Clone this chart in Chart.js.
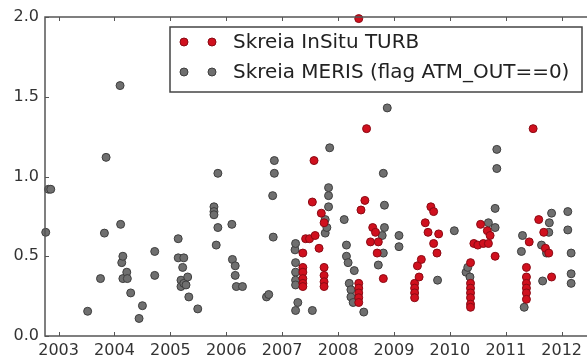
<!DOCTYPE html>
<html>
<head>
<meta charset="utf-8">
<script src="https://cdn.jsdelivr.net/npm/chart.js@4/dist/chart.umd.min.js"></script>
<style>
  html, body { margin: 0; padding: 0; background: #fff; }
  #wrap { width: 587px; height: 361px; }
</style>
</head>
<body>
<div id="wrap"><canvas id="turbChart" width="587" height="361"></canvas></div>
<script>
// tick labels
const yearTicks = [2003, 2004, 2005, 2006, 2007, 2008, 2009, 2010, 2011, 2012];
const turbTicks = [0.0, 0.5, 1.0, 1.5, 2.0];

// legend labels
const insituLabel = "Skreia InSitu TURB";
const merisLabel = "Skreia MERIS (flag ATM_OUT==0)";

// in situ turbidity (red)
const insituYears = [
  2007.37, 2007.37, 2007.37, 2007.37, 2007.37, 2007.37, 2007.42, 2007.49, 2007.59, 2007.57,
  2007.54, 2007.66, 2007.70, 2007.75, 2007.75, 2007.75, 2007.75, 2007.75, 2008.37, 2008.51,
  2008.48, 2008.41, 2008.37, 2008.37, 2008.37, 2008.37, 2008.37, 2008.62, 2008.67, 2008.58,
  2008.72, 2008.70, 2008.81, 2009.37, 2009.37, 2009.37, 2009.37, 2009.42, 2009.45, 2009.49,
  2009.56, 2009.61, 2009.66, 2009.71, 2009.71, 2009.77, 2009.80, 2010.37, 2010.37, 2010.37,
  2010.37, 2010.37, 2010.37, 2010.37, 2010.43, 2010.50, 2010.55, 2010.60, 2010.67, 2010.69,
  2010.72, 2010.81, 2011.37, 2011.37, 2011.37, 2011.37, 2011.37, 2011.37, 2011.42, 2011.49,
  2011.59, 2011.68, 2011.71, 2011.77, 2011.82
];
const insituTurb = [
  0.52, 0.43, 0.40, 0.36, 0.33, 0.31, 0.61, 0.61, 0.63, 1.10,
  0.84, 0.55, 0.77, 0.71, 0.43, 0.38, 0.34, 0.31, 1.99, 1.30,
  0.85, 0.79, 0.33, 0.30, 0.27, 0.24, 0.21, 0.68, 0.65, 0.59,
  0.59, 0.52, 0.36, 0.33, 0.30, 0.27, 0.24, 0.44, 0.37, 0.48,
  0.71, 0.65, 0.81, 0.78, 0.58, 0.52, 0.64, 0.46, 0.33, 0.30,
  0.27, 0.24, 0.20, 0.18, 0.58, 0.57, 0.70, 0.58, 0.66, 0.58,
  0.63, 0.50, 0.43, 0.37, 0.33, 0.30, 0.27, 0.23, 0.59, 1.30,
  0.73, 0.65, 0.55, 0.52, 0.37
];

// MERIS turbidity (grey)
const merisYears = [
  2002.77, 2002.82, 2002.86, 2003.52, 2003.75, 2003.82, 2003.85, 2004.10, 2004.11, 2004.13,
  2004.15, 2004.15, 2004.22, 2004.23, 2004.29, 2004.44, 2004.50, 2004.72, 2004.72, 2005.14,
  2005.14, 2005.19, 2005.19, 2005.22, 2005.24, 2005.24, 2005.28, 2005.31, 2005.33, 2005.49,
  2005.78, 2005.78, 2005.78, 2005.82, 2005.85, 2005.85, 2006.10, 2006.11, 2006.16, 2006.16,
  2006.18, 2006.29, 2006.72, 2006.76, 2006.83, 2006.84, 2006.86, 2006.86, 2007.23, 2007.24,
  2007.24, 2007.24, 2007.24, 2007.24, 2007.24, 2007.28, 2007.54, 2007.77, 2007.77, 2007.80,
  2007.83, 2007.83, 2007.83, 2007.85, 2008.11, 2008.15, 2008.15, 2008.18, 2008.20, 2008.23,
  2008.23, 2008.27, 2008.29, 2008.46, 2008.72, 2008.79, 2008.81, 2008.81, 2008.83, 2008.83,
  2008.88, 2009.09, 2009.09, 2009.78, 2010.08, 2010.29, 2010.32, 2010.36, 2010.69, 2010.81,
  2010.81, 2010.84, 2010.84, 2011.28, 2011.30, 2011.33, 2011.64, 2011.66, 2011.73, 2011.77,
  2011.78, 2011.82, 2012.11, 2012.11, 2012.17, 2012.17, 2012.17
];
const merisTurb = [
  0.65, 0.92, 0.92, 0.155, 0.36, 0.645, 1.12, 1.57, 0.70, 0.46,
  0.50, 0.36, 0.40, 0.36, 0.27, 0.11, 0.19, 0.53, 0.38, 0.61,
  0.49, 0.35, 0.31, 0.43, 0.49, 0.33, 0.32, 0.37, 0.245, 0.17,
  0.81, 0.78, 0.76, 0.57, 1.02, 0.68, 0.70, 0.48, 0.44, 0.38,
  0.31, 0.31, 0.245, 0.26, 0.88, 0.62, 1.10, 1.02, 0.54, 0.58,
  0.46, 0.40, 0.35, 0.32, 0.16, 0.21, 0.16, 0.73, 0.645, 0.68,
  0.93, 0.88, 0.81, 1.18, 0.73, 0.57, 0.50, 0.46, 0.33, 0.29,
  0.245, 0.21, 0.41, 0.15, 0.445, 0.63, 1.02, 0.52, 0.82, 0.68,
  1.43, 0.63, 0.56, 0.35, 0.66, 0.40, 0.43, 0.37, 0.71, 0.80,
  0.68, 1.17, 1.05, 0.53, 0.63, 0.18, 0.57, 0.345, 0.52, 0.65,
  0.71, 0.77, 0.78, 0.665, 0.52, 0.39, 0.33
];

const RED = "#d0101e", RED_EDGE = "#8a0a14";
const GREY = "#6f6f6f", GREY_EDGE = "#3e3e3e";
const FONT = "DejaVu Sans";

const toPoints = (xs, ys) => xs.map((x, i) => ({ x: x, y: ys[i] }));

// matplotlib-like frame with inward ticks and an in-plot legend
const framePlugin = {
  id: "frame",
  afterDatasetsDraw(chart) {
    const { ctx, chartArea: a, scales } = chart;
    ctx.save();
    ctx.strokeStyle = "#555";
    ctx.lineWidth = 1.5;
    ctx.beginPath();
    ctx.moveTo(chart.width + 2, a.top);
    ctx.lineTo(a.left, a.top);
    ctx.lineTo(a.left, a.bottom);
    ctx.lineTo(chart.width + 2, a.bottom);
    ctx.stroke();
    ctx.lineWidth = 1;
    ctx.beginPath();
    yearTicks.forEach((yr) => {
      const px = Math.round(scales.x.getPixelForValue(yr)) + 0.5;
      ctx.moveTo(px, a.bottom); ctx.lineTo(px, a.bottom - 4);
      ctx.moveTo(px, a.top); ctx.lineTo(px, a.top + 4);
    });
    turbTicks.forEach((v) => {
      const py = Math.round(scales.y.getPixelForValue(v)) + 0.5;
      ctx.moveTo(a.left, py); ctx.lineTo(a.left + 4, py);
    });
    ctx.stroke();
    ctx.restore();
  },
  afterDraw(chart) {
    const { ctx } = chart;
    const box = { x: 170, y: 27, w: 412, h: 65 };
    ctx.save();
    ctx.fillStyle = "#fff";
    ctx.fillRect(box.x, box.y, box.w, box.h);
    ctx.strokeStyle = "#444";
    ctx.lineWidth = 1.5;
    ctx.strokeRect(box.x, box.y, box.w, box.h);
    const rows = [
      { label: insituLabel, fill: RED, edge: RED_EDGE, y: 42 },
      { label: merisLabel, fill: GREY, edge: GREY_EDGE, y: 72 }
    ];
    rows.forEach((r) => {
      [184, 212].forEach((mx) => {
        ctx.beginPath();
        ctx.arc(mx, r.y, 4, 0, Math.PI * 2);
        ctx.fillStyle = r.fill;
        ctx.fill();
        ctx.strokeStyle = r.edge;
        ctx.lineWidth = 1;
        ctx.stroke();
      });
      // reference text is a little wider than it is tall
      ctx.save();
      ctx.translate(233, r.y + 1);
      ctx.scale(1.05, 1);
      ctx.font = "19px '" + FONT + "'";
      ctx.textBaseline = "middle";
      ctx.fillStyle = "#222";
      ctx.fillText(r.label, 0, 0);
      ctx.restore();
    });
    ctx.restore();
  }
};

const ctx = document.getElementById("turbChart").getContext("2d");
new Chart(ctx, {
  type: "scatter",
  data: {
    datasets: [
      {
        label: insituLabel,
        data: toPoints(insituYears, insituTurb),
        backgroundColor: RED,
        borderColor: RED_EDGE,
        borderWidth: 1,
        pointRadius: 4,
        clip: 4
      },
      {
        label: merisLabel,
        data: toPoints(merisYears, merisTurb),
        backgroundColor: GREY,
        borderColor: GREY_EDGE,
        borderWidth: 1,
        pointRadius: 4,
        clip: 4
      }
    ]
  },
  options: {
    responsive: false,
    animation: false,
    layout: { autoPadding: false, padding: { top: 17, right: 0, left: 0, bottom: 0 } },
    plugins: { legend: { display: false }, tooltip: { enabled: false } },
    scales: {
      x: {
        type: "linear",
        min: 2002.757,
        max: 2012.183,
        afterFit: (s) => { s.height = 25; },
        grid: { display: false, drawTicks: false },
        border: { display: false },
        afterBuildTicks: (s) => { s.ticks = yearTicks.map((v) => ({ value: v })); },
        ticks: {
          includeBounds: false,
          padding: 5,
          color: "#333",
          font: { family: FONT, size: 16 },
          maxRotation: 0,
          autoSkip: false,
          callback: (v) => String(v)
        }
      },
      y: {
        min: 0,
        max: 2.0,
        afterFit: (s) => { s.width = 45; },
        grid: { display: false, drawTicks: false },
        border: { display: false },
        afterBuildTicks: (s) => { s.ticks = turbTicks.map((v) => ({ value: v })); },
        ticks: {
          padding: 6,
          color: "#333",
          font: { family: FONT, size: 16 },
          callback: (v) => Number(v).toFixed(1)
        }
      }
    }
  },
  plugins: [framePlugin]
});
</script>
</body>
</html>
